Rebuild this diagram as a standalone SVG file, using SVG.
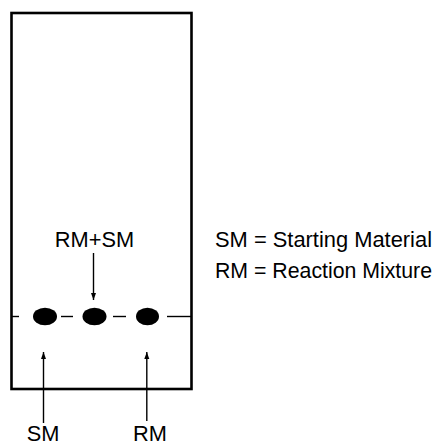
<svg xmlns="http://www.w3.org/2000/svg" width="438" height="446" viewBox="0 0 438 446">
<style>
text{font-family:"Liberation Sans",Arial,sans-serif;font-size:21.8px;fill:#000}
.ln{stroke:#000;stroke-width:1.4;fill:none}
.spot{fill:#000}
</style>
<defs>
<marker id="ah" markerWidth="8" markerHeight="8" refX="7" refY="4" orient="auto" markerUnits="userSpaceOnUse">
<path d="M0,1.5 L7,4 L0,6.5 Z" fill="#000"/>
</marker>
</defs>
<rect x="0" y="0" width="438" height="446" fill="#fff"/>
<g id="plate">
<rect x="11.5" y="13" width="180" height="376" fill="none" stroke="#000" stroke-width="2.6"/>
</g>
<g id="baseline">
<line class="ln" x1="11" y1="316.5" x2="19" y2="316.5"/>
<line class="ln" x1="61" y1="316.5" x2="73" y2="316.5"/>
<line class="ln" x1="113" y1="316.5" x2="126" y2="316.5"/>
<line class="ln" x1="167" y1="316.5" x2="191" y2="316.5"/>
</g>
<g id="spot-sm"><ellipse class="spot" cx="45" cy="316.5" rx="12" ry="8.8"/></g>
<g id="spot-mix"><ellipse class="spot" cx="94.5" cy="316.5" rx="12" ry="8.8"/></g>
<g id="spot-rm"><ellipse class="spot" cx="147.5" cy="316.5" rx="11.5" ry="8.8"/></g>
<g id="connectors">
<line class="ln" x1="93.5" y1="253" x2="93.5" y2="300" marker-end="url(#ah)"/>
<line class="ln" x1="43.5" y1="423" x2="43.5" y2="352" marker-end="url(#ah)"/>
<line class="ln" x1="146.8" y1="421" x2="146.8" y2="352" marker-end="url(#ah)"/>
</g>
<g id="label-mix"><text x="94.5" y="246.5" text-anchor="middle">RM+SM</text></g>
<g id="label-sm"><text x="43" y="441" text-anchor="middle">SM</text></g>
<g id="label-rm"><text x="150" y="441" text-anchor="middle">RM</text></g>
<g id="legend">
<text x="215" y="246.5" textLength="217" lengthAdjust="spacingAndGlyphs">SM = Starting Material</text>
<text x="215" y="278" textLength="217" lengthAdjust="spacingAndGlyphs">RM = Reaction Mixture</text>
</g>
</svg>
